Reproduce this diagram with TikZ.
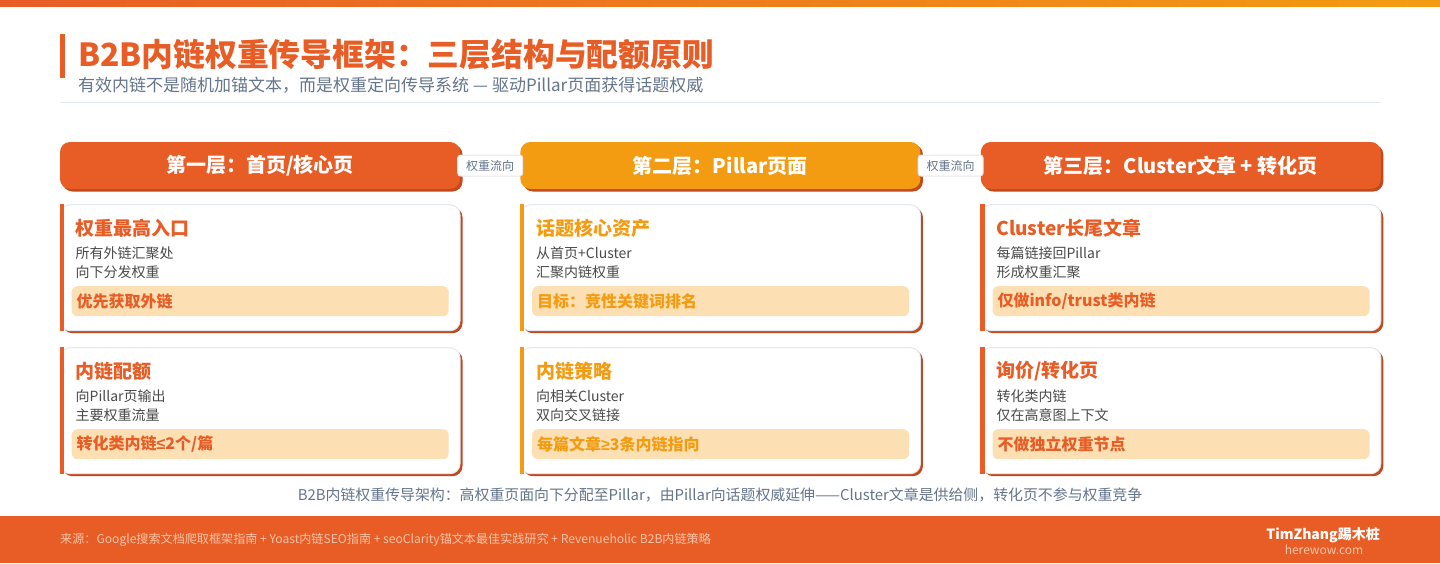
\documentclass[tikz,border=0pt]{standalone}
\usepackage{fontspec}
\setmainfont{Noto Sans CJK SC}
\newfontfamily\mathsym{Liberation Sans}
\usetikzlibrary{positioning,shadows}
\definecolor{fire}{HTML}{E85D26}
\definecolor{amber}{HTML}{F39C12}
\definecolor{rust}{HTML}{C2481E}
\definecolor{peach}{HTML}{FCE0B3}
\definecolor{slate}{HTML}{64748B}
\definecolor{ink}{HTML}{4A4A4A}
\definecolor{rule}{HTML}{E2E8F0}
\definecolor{faint}{HTML}{F8C4A8}
\newcommand{\fs}[1]{\fontsize{#1}{#1}\selectfont}
\newcommand{\tiercard}[6]{%
  \fill[#2] (#1.north west) rectangle ([xshift=4.5pt]#1.south west);
  \node (#1t) [cardtitle, text=#2] at ([shift={(16pt,-24pt)}]#1.north west) {#3};
  \node (#1a) [cardline] at ([shift={(16pt,-49pt)}]#1.north west) {#4};
  \node (#1b) [cardline] at ([shift={(16pt,-68pt)}]#1.north west) {#5};
  \node (#1k) [keybox, text=#2] at ([shift={(12pt,-97pt)}]#1.north west) {#6};
}
\begin{document}
\begin{tikzpicture}[x=1pt, y=-1pt,
    header/.style={rounded corners=10pt, minimum width=400pt, minimum height=47pt,
      inner sep=0pt, text=white, font=\bfseries\fs{20},
      drop shadow={shadow xshift=2.5pt, shadow yshift=-2.5pt, fill=rust, opacity=1}},
    card/.style={rounded corners=10pt, draw=rule, line width=1pt, fill=white,
      minimum width=400pt, minimum height=126pt,
      drop shadow={shadow xshift=2.5pt, shadow yshift=-2.5pt, fill=rust, opacity=1}},
    cardtitle/.style={anchor=west, inner sep=0pt, font=\bfseries\fs{19}},
    cardline/.style={anchor=west, inner sep=0pt, text=ink, font=\fs{14}},
    keybox/.style={anchor=west, fill=peach, rounded corners=6pt, text width=367pt,
      minimum height=30pt, inner xsep=5pt, inner ysep=0pt, align=left,
      font=\bfseries\fs{16}},
    flowtag/.style={fill=white, draw=rule, line width=1pt, rounded corners=3pt,
      minimum width=65pt, minimum height=21pt, inner sep=0pt, text=slate, font=\fs{12}}]
  \useasboundingbox (0,0) rectangle (1440,563);
  \shade[left color=fire, right color=amber] (0,0) rectangle (1440,6);

  \fill[fire] (60,34) rectangle (64.5,78);
  \node (title) [anchor=west, inner sep=0pt, text=fire, font=\bfseries\fs{31.8}] at (78,55)
    {B2B内链权重传导框架：三层结构与配额原则};
  \node (subtitle) [anchor=west, inner sep=0pt, text=slate, font=\fs{17}] at (78,85.5)
    {有效内链不是随机加锚文本，而是权重定向传导系统 — 驱动Pillar页面获得话题权威};
  \draw[rule, line width=1pt] (60,102) -- (1381,102);

  \node (h1) [header, fill=fire] at (260,165.5) {第一层：首页/核心页};
  \node (h2) [header, fill=amber, right=60pt of h1] {第二层：Pillar页面};
  \node (h3) [header, fill=fire, right=60pt of h2] {第三层：Cluster文章 + 转化页};
  \path (h1) -- node [flowtag] {权重流向} (h2);
  \path (h2) -- node [flowtag] {权重流向} (h3);

  \node (c11) [card, below=15pt of h1] {};
  \node (c12) [card, below=16pt of c11] {};
  \node (c21) [card, below=15pt of h2] {};
  \node (c22) [card, below=16pt of c21] {};
  \node (c31) [card, below=15pt of h3] {};
  \node (c32) [card, below=16pt of c31] {};
  \tiercard{c11}{fire}{权重最高入口}{所有外链汇聚处}{向下分发权重}{优先获取外链}
  \tiercard{c12}{fire}{内链配额}{向Pillar页输出}{主要权重流量}{转化类内链{\mathsym ≤}2个/篇}
  \tiercard{c21}{amber}{话题核心资产}{从首页+Cluster}{汇聚内链权重}{目标：竞性关键词排名}
  \tiercard{c22}{amber}{内链策略}{向相关Cluster}{双向交叉链接}{每篇文章{\mathsym ≥}3条内链指向}
  \tiercard{c31}{fire}{Cluster长尾文章}{每篇链接回Pillar}{形成权重汇聚}{仅做info/trust类内链}
  \tiercard{c32}{fire}{询价/转化页}{转化类内链}{仅在高意图上下文}{不做独立权重节点}

  \node (caption) [inner sep=0pt, text=slate, font=\fs{14.9}] at (720,495)
    {B2B内链权重传导架构：高权重页面向下分配至Pillar，由Pillar向话题权威延伸——Cluster文章是供给侧，转化页不参与权重竞争};

  \fill[fire] (0,516) rectangle (1440,563);
  \node (source) [anchor=west, inner sep=0pt, text=faint, font=\fs{12.1}] at (60,540)
    {来源：Google搜索文档爬取框架指南 + Yoast内链SEO指南 + seoClarity锚文本最佳实践研究 + Revenueholic B2B内链策略};
  \node (brand) [anchor=east, inner sep=0pt, text=white, font=\bfseries\fs{14}] at (1380,535.5)
    {TimZhang踢木桩};
  \node (site) [inner sep=0pt, text=faint, font=\fs{12}] at (1324,549.5) {herewow.com};
\end{tikzpicture}
\end{document}
